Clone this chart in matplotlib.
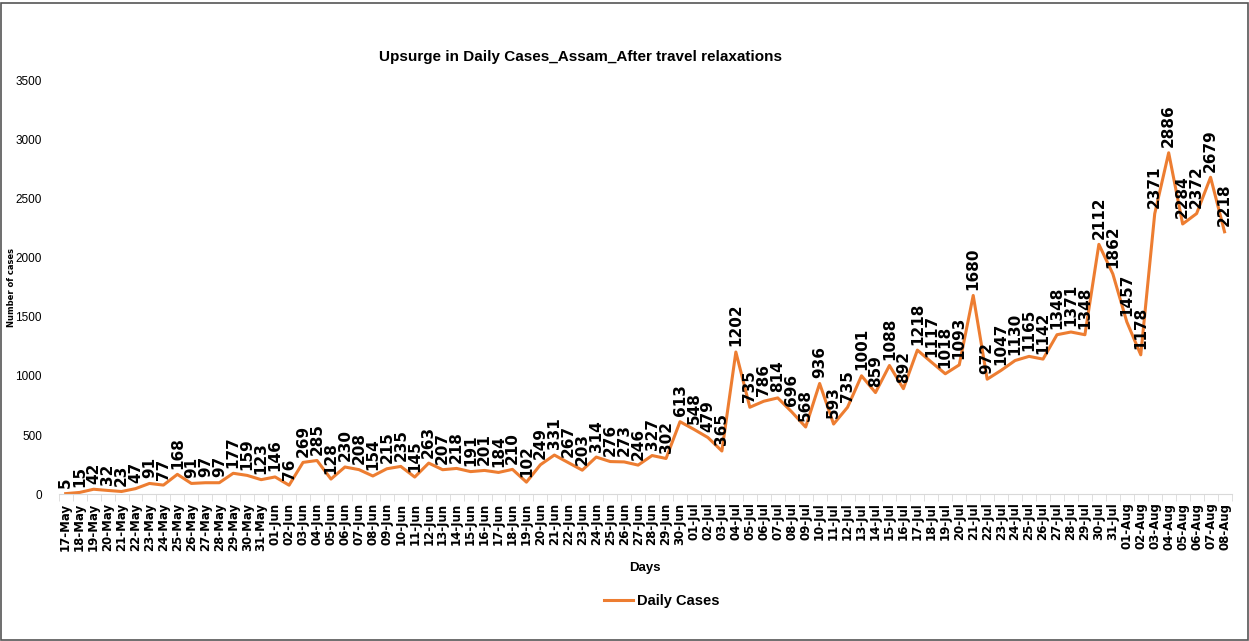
import numpy as np
import matplotlib.pyplot as plt
from matplotlib.patches import Rectangle
from matplotlib.lines import Line2D

# Data
may_days = [f"{d:02d}-May" for d in range(17, 32)]
jun_days = [f"{d:02d}-Jun" for d in range(1, 31)]
jul_days = [f"{d:02d}-Jul" for d in range(1, 32)]
aug_days = [f"{d:02d}-Aug" for d in range(1, 9)]
days = may_days + jun_days + jul_days + aug_days

may_cases = [5, 15, 42, 32, 23, 47, 91, 77, 168, 91, 97, 97, 177, 159, 123]
jun_cases = [146, 76, 269, 285, 128, 230, 208, 154, 215, 235,
             145, 263, 207, 218, 191, 201, 184, 210, 102, 249,
             331, 267, 203, 314, 276, 273, 246, 327, 302, 613]
jul_cases = [548, 479, 365, 1202, 735, 786, 814, 696, 568, 936,
             593, 735, 1001, 859, 1088, 892, 1218, 1117, 1018, 1093,
             1680, 972, 1047, 1130, 1165, 1142, 1348, 1371, 1348, 2112,
             1862]
aug_cases = [1457, 1178, 2371, 2886, 2284, 2372, 2679, 2218]
cases = may_cases + jun_cases + jul_cases + aug_cases

narrow = ['Liberation Sans', 'DejaVu Sans']
orange = '#ED7D31'

fig = plt.figure(figsize=(12.49, 6.41), dpi=100)
ax = fig.add_axes([0.047, 0.229, 0.939, 0.646])

x = np.arange(len(days))
ax.plot(x, cases, color=orange, linewidth=2.2, label='Daily Cases')

for xi, v in zip(x, cases):
    ax.annotate(str(v), (xi, v), xytext=(0, 4), textcoords='offset points',
                rotation=90, ha='center', va='bottom', fontsize=11,
                fontweight='bold', color='black')

ax.set_xlim(-0.5, len(days) - 0.5)
ax.set_ylim(0, 3500)
ax.set_yticks(range(0, 3501, 500))
ax.set_yticklabels([str(v) for v in range(0, 3501, 500)], family=narrow, fontsize=8.5)
ax.set_xticks(x)
ax.set_xticklabels(days, rotation=90, fontsize=8.5, fontweight='bold')
ax.set_xticks(np.arange(-0.5, len(days), 1), minor=True)
ax.tick_params(axis='x', which='major', length=0, pad=6)
ax.tick_params(axis='x', which='minor', length=5, color='#d9d9d9')
ax.tick_params(axis='y', length=0, pad=12)

for s in ['top', 'right', 'left']:
    ax.spines[s].set_visible(False)
ax.spines['bottom'].set_color('#d9d9d9')

ax.set_ylabel('Number of cases', fontsize=6, fontweight='bold')
ax.yaxis.set_label_coords(-0.036, 0.5)
ax.set_xlabel('Days', family=narrow, fontsize=9.5, fontweight='bold', labelpad=8)
ax.set_title('Upsurge in Daily Cases_Assam_After travel relaxations',
             family=narrow, fontsize=11, fontweight='bold', pad=14, x=0.445)

handle = Line2D([0], [0], color=orange, linewidth=2.2)
fig.legend([handle], ['Daily Cases'], loc='center', bbox_to_anchor=(0.53, 0.063),
           frameon=False, prop={'family': narrow, 'size': 10.5, 'weight': 'bold'},
           handlelength=2, handletextpad=0.3)

fig.patches.append(Rectangle((0.001, 0.001), 0.998, 0.995, transform=fig.transFigure,
                             fill=False, edgecolor='#555555', linewidth=1.2))

fig.savefig('out.png', dpi=100)
